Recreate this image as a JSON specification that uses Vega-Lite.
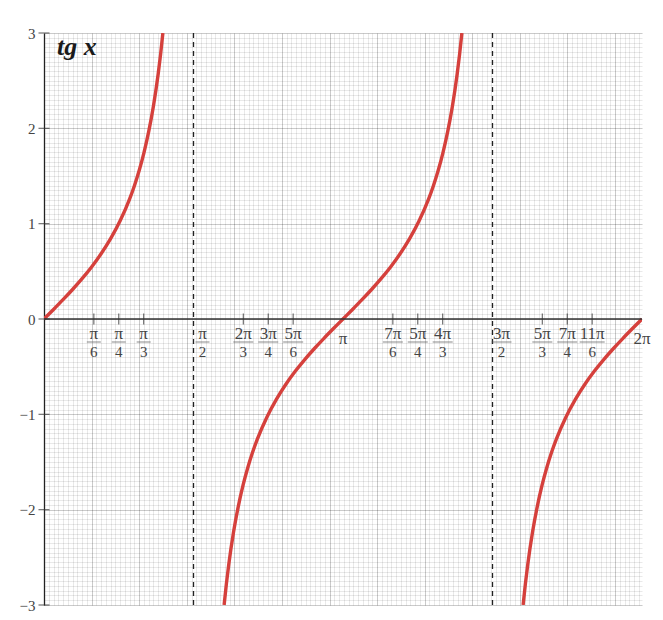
{
  "$schema": "https://vega.github.io/schema/vega-lite/v6.json",
  "width": 598,
  "height": 572,
  "autosize": {"type": "none"},
  "padding": {"left": 44, "top": 33, "right": 21, "bottom": 15},
  "background": "white",
  "config": {"view": {"stroke": null}, "font": "Liberation Serif"},
  "resolve": {"axis": {"x": "independent", "y": "independent"}},
  "datasets": {
    "curve": [
      {"b": 1, "x": 0, "y": 0}, {"b": 1, "x": 0.1, "y": 0.1003}, {"b": 1, "x": 0.2, "y": 0.2027}, {"b": 1, "x": 0.3, "y": 0.3093},
      {"b": 1, "x": 0.4, "y": 0.4228}, {"b": 1, "x": 0.5, "y": 0.5463}, {"b": 1, "x": 0.6, "y": 0.6841}, {"b": 1, "x": 0.7, "y": 0.8423},
      {"b": 1, "x": 0.8, "y": 1.0296}, {"b": 1, "x": 0.9, "y": 1.2602}, {"b": 1, "x": 0.95, "y": 1.3984}, {"b": 1, "x": 1.0, "y": 1.5574},
      {"b": 1, "x": 1.05, "y": 1.7433}, {"b": 1, "x": 1.1, "y": 1.9648}, {"b": 1, "x": 1.15, "y": 2.2345}, {"b": 1, "x": 1.2, "y": 2.5722},
      {"b": 1, "x": 1.225, "y": 2.7757}, {"b": 1, "x": 1.249, "y": 3.0},
      {"b": 2, "x": 1.8925, "y": -3.0}, {"b": 2, "x": 1.9166, "y": -2.7757}, {"b": 2, "x": 1.9416, "y": -2.5722}, {"b": 2, "x": 1.9916, "y": -2.2345},
      {"b": 2, "x": 2.0416, "y": -1.9648}, {"b": 2, "x": 2.0916, "y": -1.7433}, {"b": 2, "x": 2.1416, "y": -1.5574}, {"b": 2, "x": 2.1916, "y": -1.3984},
      {"b": 2, "x": 2.2416, "y": -1.2602}, {"b": 2, "x": 2.3416, "y": -1.0296}, {"b": 2, "x": 2.4416, "y": -0.8423}, {"b": 2, "x": 2.5416, "y": -0.6841},
      {"b": 2, "x": 2.6416, "y": -0.5463}, {"b": 2, "x": 2.7416, "y": -0.4228}, {"b": 2, "x": 2.8416, "y": -0.3093}, {"b": 2, "x": 2.9416, "y": -0.2027},
      {"b": 2, "x": 3.0416, "y": -0.1003}, {"b": 2, "x": 3.1416, "y": 0}, {"b": 2, "x": 3.2416, "y": 0.1003}, {"b": 2, "x": 3.3416, "y": 0.2027},
      {"b": 2, "x": 3.4416, "y": 0.3093}, {"b": 2, "x": 3.5416, "y": 0.4228}, {"b": 2, "x": 3.6416, "y": 0.5463}, {"b": 2, "x": 3.7416, "y": 0.6841},
      {"b": 2, "x": 3.8416, "y": 0.8423}, {"b": 2, "x": 3.9416, "y": 1.0296}, {"b": 2, "x": 4.0416, "y": 1.2602}, {"b": 2, "x": 4.0916, "y": 1.3984},
      {"b": 2, "x": 4.1416, "y": 1.5574}, {"b": 2, "x": 4.1916, "y": 1.7433}, {"b": 2, "x": 4.2416, "y": 1.9648}, {"b": 2, "x": 4.2916, "y": 2.2345},
      {"b": 2, "x": 4.3416, "y": 2.5722}, {"b": 2, "x": 4.3666, "y": 2.7757}, {"b": 2, "x": 4.3906, "y": 3.0},
      {"b": 3, "x": 5.0341, "y": -3.0}, {"b": 3, "x": 5.0582, "y": -2.7757}, {"b": 3, "x": 5.0832, "y": -2.5722}, {"b": 3, "x": 5.1332, "y": -2.2345},
      {"b": 3, "x": 5.1832, "y": -1.9648}, {"b": 3, "x": 5.2332, "y": -1.7433}, {"b": 3, "x": 5.2832, "y": -1.5574}, {"b": 3, "x": 5.3332, "y": -1.3984},
      {"b": 3, "x": 5.3832, "y": -1.2602}, {"b": 3, "x": 5.4832, "y": -1.0296}, {"b": 3, "x": 5.5832, "y": -0.8423}, {"b": 3, "x": 5.6832, "y": -0.6841},
      {"b": 3, "x": 5.7832, "y": -0.5463}, {"b": 3, "x": 5.8832, "y": -0.4228}, {"b": 3, "x": 5.9832, "y": -0.3093}, {"b": 3, "x": 6.0832, "y": -0.2027},
      {"b": 3, "x": 6.1832, "y": -0.1003}, {"b": 3, "x": 6.2832, "y": 0}
    ],
    "yticks": [{"v": -3}, {"v": -2}, {"v": -1}, {"v": 0}, {"v": 1}, {"v": 2}, {"v": 3}],
    "asym": [{"x": 1.5708}, {"x": 4.7124}],
    "fracs": [
      {"x": 0.5236, "num": "π", "den": "6"}, {"x": 0.7854, "num": "π", "den": "4"}, {"x": 1.0472, "num": "π", "den": "3"},
      {"x": 2.0944, "num": "2π", "den": "3"}, {"x": 2.3562, "num": "3π", "den": "4"}, {"x": 2.618, "num": "5π", "den": "6"},
      {"x": 3.6652, "num": "7π", "den": "6"}, {"x": 3.927, "num": "5π", "den": "4"}, {"x": 4.1888, "num": "4π", "den": "3"},
      {"x": 5.236, "num": "5π", "den": "3"}, {"x": 5.4978, "num": "7π", "den": "4"}, {"x": 5.7596, "num": "11π", "den": "6"}
    ],
    "halfs": [{"x": 1.5708, "num": "π", "den": "2"}, {"x": 4.7124, "num": "3π", "den": "2"}],
    "multiples": [{"x": 3.1416, "label": "π"}, {"x": 6.2832, "label": "2π"}]
  },
  "layer": [
    {
      "data": {"name": "curve"},
      "mark": {"type": "line", "color": "#d5403c", "strokeWidth": 3.4, "interpolate": "monotone", "clip": true},
      "encoding": {
        "x": {"field": "x", "type": "quantitative", "scale": {"domain": [0, 6.2832], "nice": false, "zero": false},
          "axis": {"orient": "bottom", "grid": true, "tickCount": 125, "gridColor": "#000", "gridOpacity": 0.15, "gridWidth": 0.6, "labels": false, "ticks": false, "domain": false, "title": null}},
        "y": {"field": "y", "type": "quantitative", "scale": {"domain": [-3, 3], "nice": false, "zero": false},
          "axis": {"orient": "right", "grid": true, "tickCount": 120, "gridColor": "#000", "gridOpacity": 0.15, "gridWidth": 0.6, "labels": false, "ticks": false, "domain": false, "title": null}},
        "detail": {"field": "b", "type": "nominal"},
        "order": {"field": "x", "type": "quantitative"}
      }
    },
    {
      "data": {"name": "yticks"},
      "mark": {"type": "tick", "orient": "horizontal", "size": 11, "thickness": 1.2, "color": "#333"},
      "encoding": {
        "x": {"datum": 0, "type": "quantitative", "axis": null},
        "y": {"field": "v", "type": "quantitative",
          "axis": {"orient": "left", "grid": true, "tickCount": 12, "gridColor": "#000", "gridOpacity": 0.17, "gridWidth": 0.8, "ticks": false, "domain": true, "domainColor": "#222", "domainWidth": 1.3,
            "format": "d", "labelExpr": "datum.value % 1 === 0 ? datum.label : ''", "labelFont": "Liberation Serif", "labelFontSize": 15, "labelColor": "#444", "labelPadding": 9, "labelFlush": false, "labelOverlap": false, "title": null}}
      }
    },
    {
      "data": {"name": "asym"},
      "mark": {"type": "rule", "strokeDash": [5, 4], "color": "#222", "strokeWidth": 1.3},
      "encoding": {
        "x": {"field": "x", "type": "quantitative",
          "axis": {"orient": "top", "grid": true, "tickCount": 13, "gridColor": "#000", "gridOpacity": 0.17, "gridWidth": 0.8, "labels": false, "ticks": false, "domain": false, "title": null}}
      }
    },
    {
      "data": {"values": [{"y": 0}]},
      "mark": {"type": "rule", "color": "#333", "strokeWidth": 1.3},
      "encoding": {"y": {"field": "y", "type": "quantitative", "axis": null}}
    },
    {
      "data": {"name": "fracs"},
      "mark": {"type": "tick", "orient": "vertical", "size": 11, "thickness": 1.2, "color": "#333"},
      "encoding": {
        "x": {"field": "x", "type": "quantitative", "axis": null},
        "y": {"datum": 0, "type": "quantitative", "axis": null}
      }
    },
    {
      "data": {"name": "fracs"},
      "mark": {"type": "text", "font": "Liberation Serif", "fontSize": 17, "color": "#444", "dy": 15, "baseline": "middle"},
      "encoding": {
        "x": {"field": "x", "type": "quantitative", "axis": null},
        "y": {"datum": 0, "type": "quantitative", "axis": null},
        "text": {"field": "num"}
      }
    },
    {
      "data": {"name": "fracs"},
      "mark": {"type": "tick", "orient": "horizontal", "thickness": 1, "color": "#555", "yOffset": 23},
      "encoding": {
        "x": {"field": "x", "type": "quantitative", "axis": null},
        "y": {"datum": 0, "type": "quantitative", "axis": null},
        "size": {"field": "num", "type": "nominal", "scale": {"type": "ordinal", "domain": ["π", "2π", "3π", "4π", "5π", "7π", "11π"], "range": [14, 20, 20, 20, 20, 20, 25]}, "legend": null}
      }
    },
    {
      "data": {"name": "fracs"},
      "mark": {"type": "text", "font": "Liberation Serif", "fontSize": 15, "color": "#444", "dy": 33, "baseline": "middle"},
      "encoding": {
        "x": {"field": "x", "type": "quantitative", "axis": null},
        "y": {"datum": 0, "type": "quantitative", "axis": null},
        "text": {"field": "den"}
      }
    },
    {
      "data": {"name": "halfs"},
      "mark": {"type": "text", "font": "Liberation Serif", "fontSize": 17, "color": "#444", "dy": 15, "dx": 9, "baseline": "middle"},
      "encoding": {
        "x": {"field": "x", "type": "quantitative", "axis": null},
        "y": {"datum": 0, "type": "quantitative", "axis": null},
        "text": {"field": "num"}
      }
    },
    {
      "data": {"name": "halfs"},
      "mark": {"type": "tick", "orient": "horizontal", "thickness": 1, "color": "#555", "yOffset": 23, "xOffset": 9},
      "encoding": {
        "x": {"field": "x", "type": "quantitative", "axis": null},
        "y": {"datum": 0, "type": "quantitative", "axis": null},
        "size": {"field": "num", "type": "nominal", "scale": {"type": "ordinal", "domain": ["π", "3π"], "range": [14, 20]}, "legend": null}
      }
    },
    {
      "data": {"name": "halfs"},
      "mark": {"type": "text", "font": "Liberation Serif", "fontSize": 15, "color": "#444", "dy": 33, "dx": 9, "baseline": "middle"},
      "encoding": {
        "x": {"field": "x", "type": "quantitative", "axis": null},
        "y": {"datum": 0, "type": "quantitative", "axis": null},
        "text": {"field": "den"}
      }
    },
    {
      "data": {"name": "multiples"},
      "mark": {"type": "text", "font": "Liberation Serif", "fontSize": 17, "color": "#444", "dy": 20, "baseline": "middle"},
      "encoding": {
        "x": {"field": "x", "type": "quantitative", "axis": null},
        "y": {"datum": 0, "type": "quantitative", "axis": null},
        "text": {"field": "label"}
      }
    },
    {
      "data": {"values": [{"label": "tg x"}]},
      "mark": {"type": "text", "font": "Liberation Serif", "fontSize": 26, "fontStyle": "italic", "fontWeight": "bold", "color": "#1a1a1a", "align": "left", "baseline": "alphabetic", "dx": 13, "dy": 22},
      "encoding": {
        "x": {"datum": 0, "type": "quantitative", "axis": null},
        "y": {"datum": 3, "type": "quantitative", "axis": null},
        "text": {"field": "label"}
      }
    }
  ]
}
